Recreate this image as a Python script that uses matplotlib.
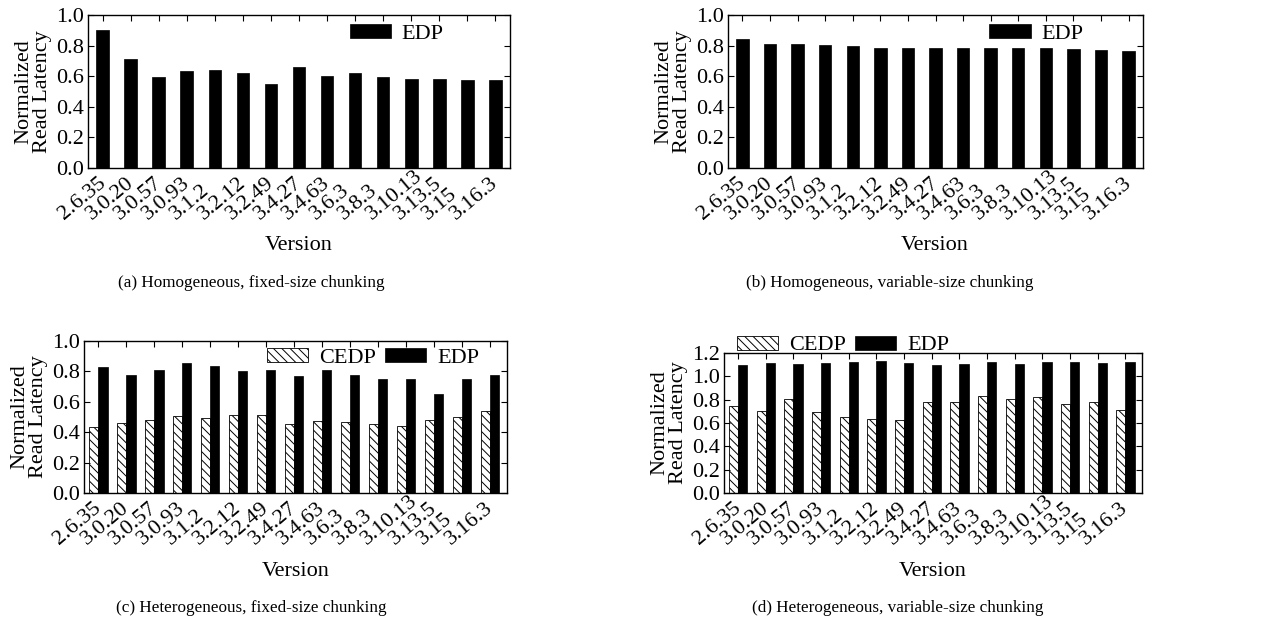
import matplotlib
matplotlib.use('Agg')
import matplotlib.pyplot as plt
import matplotlib.transforms as mtransforms
import numpy as np

plt.rcParams['font.family'] = ['Liberation Serif', 'DejaVu Serif']
plt.rcParams['hatch.linewidth'] = 0.7

versions = ['2.6.35', '3.0.20', '3.0.57', '3.0.93', '3.1.2', '3.2.12', '3.2.49',
            '3.4.27', '3.4.63', '3.6.3', '3.8.3', '3.10.13', '3.13.5', '3.15', '3.16.3']

# (a) homogeneous, fixed-size chunking
edp_a = [0.90, 0.712, 0.598, 0.635, 0.64, 0.622, 0.548, 0.659, 0.603, 0.618,
         0.596, 0.583, 0.583, 0.572, 0.576]
# (b) homogeneous, variable-size chunking
edp_b = [0.843, 0.812, 0.808, 0.803, 0.799, 0.786, 0.782, 0.786, 0.786, 0.786,
         0.782, 0.782, 0.777, 0.773, 0.766]
# (c) heterogeneous, fixed-size chunking
cedp_c = [0.432, 0.461, 0.483, 0.507, 0.493, 0.513, 0.513, 0.456, 0.474, 0.467,
          0.456, 0.441, 0.483, 0.498, 0.541]
edp_c = [0.828, 0.777, 0.808, 0.852, 0.834, 0.803, 0.812, 0.771, 0.808, 0.777,
         0.753, 0.749, 0.651, 0.747, 0.777]
# (d) heterogeneous, variable-size chunking
cedp_d = [0.749, 0.706, 0.809, 0.697, 0.654, 0.637, 0.623, 0.783, 0.777, 0.834,
          0.809, 0.82, 0.763, 0.783, 0.714]
edp_d = [1.094, 1.111, 1.106, 1.111, 1.12, 1.129, 1.114, 1.097, 1.103, 1.123,
         1.103, 1.12, 1.12, 1.114, 1.123]

captions = ['(a) Homogeneous, fixed-size chunking',
            '(b) Homogeneous, variable-size chunking',
            '(c) Heterogeneous, fixed-size chunking',
            '(d) Heterogeneous, variable-size chunking']

W, H = 1263, 629
fig = plt.figure(figsize=(W / 100, H / 100), dpi=100)

def px_axes(l, r, t, b):
    return fig.add_axes([l / W, 1 - b / H, (r - l) / W, (b - t) / H])

FS = 16
x = np.arange(len(versions))


def style(ax, ymax, xlim):
    ax.set_xlim(*xlim)
    ax.set_ylim(0, ymax)
    yt = np.arange(0, ymax + 0.01, 0.2)
    ax.set_yticks(yt)
    ax.set_yticklabels(['%.1f' % v for v in yt], fontsize=FS)
    ax.set_xticks(x)
    ax.set_xticklabels(versions, fontsize=FS, rotation=40, ha='left', va='baseline',
                       rotation_mode='anchor')
    ax.tick_params(axis='both', direction='in', top=True, right=True, length=4, width=0.8)
    ax.tick_params(axis='x', pad=0)
    ax.tick_params(axis='y', pad=3)
    # labels start (baseline, left end) below and left of their tick
    shift = mtransforms.ScaledTranslation(-39 / 100, -52 / 100, fig.dpi_scale_trans)
    for lab in ax.get_xticklabels():
        lab.set_transform(lab.get_transform() + shift)
    for s in ax.spines.values():
        s.set_linewidth(1.0)
    ax.set_ylabel('Normalized\nRead Latency', fontsize=FS, linespacing=0.95, labelpad=3)


leg_kw = dict(frameon=False, fontsize=FS, borderpad=0, borderaxespad=0,
              handlelength=1.85, handletextpad=0.5, handleheight=0.6)

ax_a = px_axes(88, 510, 15, 168)
ax_a.bar(x, edp_a, 0.45, color='black', edgecolor='black', linewidth=0.5, label='EDP')
style(ax_a, 1.0, (-0.52, 14.52))
ax_a.legend(loc='upper left', bbox_to_anchor=(0.62, 0.94), **leg_kw)

ax_b = px_axes(728, 1143, 15, 168)
ax_b.bar(x, edp_b, 0.45, color='black', edgecolor='black', linewidth=0.5, label='EDP')
style(ax_b, 1.0, (-0.52, 14.52))
ax_b.legend(loc='upper left', bbox_to_anchor=(0.63, 0.94), **leg_kw)

w2 = 0.33
ax_c = px_axes(84, 507, 341, 493)
ax_c.bar(x - w2 / 2, cedp_c, w2, color='white', edgecolor='black', linewidth=0.6,
         hatch='\\\\\\\\', label='CEDP')
ax_c.bar(x + w2 / 2, edp_c, w2, color='black', edgecolor='black', linewidth=0.5, label='EDP')
style(ax_c, 1.0, (-0.51, 14.6))
ax_c.legend(loc='upper left', bbox_to_anchor=(0.433, 0.955), ncol=2, columnspacing=0.4,
            **leg_kw)

ax_d = px_axes(724, 1142, 353, 493)
ax_d.bar(x - w2 / 2, cedp_d, w2, color='white', edgecolor='black', linewidth=0.6,
         hatch='\\\\\\\\', label='CEDP')
ax_d.bar(x + w2 / 2, edp_d, w2, color='black', edgecolor='black', linewidth=0.5, label='EDP')
style(ax_d, 1.2, (-0.51, 14.6))
ax_d.legend(loc='upper left', bbox_to_anchor=(0.031, 1.125), ncol=2, columnspacing=0.4,
            **leg_kw)

# axis titles and sub-captions
fig.text(299 / W, 1 - 245 / H, 'Version', fontsize=FS, ha='center', va='center')
fig.text(935 / W, 1 - 245 / H, 'Version', fontsize=FS, ha='center', va='center')
fig.text(296 / W, 1 - 572 / H, 'Version', fontsize=FS, ha='center', va='center')
fig.text(933 / W, 1 - 572 / H, 'Version', fontsize=FS, ha='center', va='center')

fig.text(251 / W, 1 - 283 / H, captions[0], fontsize=12.3, ha='center', va='center')
fig.text(890 / W, 1 - 283 / H, captions[1], fontsize=12.3, ha='center', va='center')
fig.text(251 / W, 1 - 608 / H, captions[2], fontsize=12.3, ha='center', va='center')
fig.text(898 / W, 1 - 608 / H, captions[3], fontsize=12.3, ha='center', va='center')

fig.savefig('out.png', dpi=100)
